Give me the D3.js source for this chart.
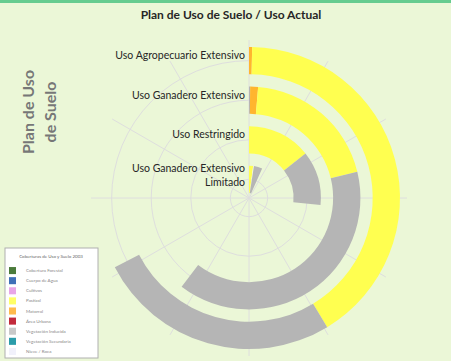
<!DOCTYPE html>
<html>
<head>
<meta charset="utf-8">
<script src="https://cdn.jsdelivr.net/npm/d3@7"></script>
<style>
  body { margin: 0; background: #ebf7d7; }
  svg { display: block; font-family: Lato, "Open Sans", sans-serif; }
</style>
</head>
<body>
<svg width="451" height="361"></svg>
<script>
// rings, from outside to inside
const rings = ["Uso Agropecuario Extensivo", "Uso Ganadero Extensivo", "Uso Restringido", "Uso Ganadero Extensivo Limitado"];

// segments of every ring, in drawing order (clockwise from 12 o'clock)
const segCats = [
  ["Matorral", "Pastizal", "Vegetación Inducida"],
  ["Vegetación Inducida", "Matorral", "Pastizal", "Vegetación Inducida"],
  ["Pastizal", "Vegetación Inducida"],
  ["Pastizal", "Nieve / Roca", "Vegetación Inducida"]
];
const segValues = [
  [1.2, 147.6, 93.9],
  [0.6, 4.1, 71.7, 140.8],
  [51.8, 43.8],
  [7.4, 1.5, 15.1]
];

// legend
const legendTitle = "Coberturas de Uso y Suelo 2003";
const legendCats = ["Cobertura Forestal", "Cuerpo de Agua", "Cultivos", "Pastizal", "Matorral", "Área Urbana", "Vegetación Inducida", "Vegetación Secundaria", "Nieve / Roca"];
const legendColors = ["#4b7b3b", "#3f70b8", "#e8a6e8", "#ffff66", "#ffbb4d", "#c22a3c", "#c9c9c9", "#2b9caa", "#f1f1fb"];

// colors used on the rings
const barColor = {
  "Pastizal": "#ffff50",
  "Matorral": "#ffb52e",
  "Vegetación Inducida": "#b5b5b5",
  "Nieve / Roca": "#f1f5e4"
};

const svg = d3.select("svg");
const width = +svg.attr("width");
const height = +svg.attr("height");

const cx = 249, cy = 198;

svg.append("rect").attr("width", width).attr("height", height).attr("fill", "#ebf7d7");
svg.append("rect").attr("width", width).attr("height", 3).attr("fill", "#66cc8f");

// title
svg.append("text")
    .attr("x", 231).attr("y", 19)
    .attr("text-anchor", "middle")
    .attr("font-weight", "bold")
    .attr("font-size", 12)
    .attr("fill", "#262626")
    .text("Plan de Uso de Suelo / Uso Actual");

// left vertical title
["Plan de Uso", "de Suelo"].forEach((t, i) => {
  svg.append("text")
      .attr("transform", `translate(${28 + i * 22},112) rotate(-90)`)
      .attr("dy", "0.35em")
      .attr("text-anchor", "middle")
      .attr("font-weight", "bold")
      .attr("font-size", 16)
      .attr("fill", "#777777")
      .text(t);
});

const r = d3.scaleBand()
    .domain(rings.slice().reverse())
    .range([5, 151])
    .paddingInner(0.31)
    .paddingOuter(0);

const a = d3.scaleLinear().domain([0, 360]).range([0, 2 * Math.PI]);

const g = svg.append("g").attr("transform", `translate(${cx},${cy})`);

// grid
const grid = g.append("g").attr("stroke", "#dedede").attr("fill", "none").attr("stroke-width", 1);
d3.range(0, 360, 30).forEach(d => {
  grid.append("line")
      .attr("x1", 0).attr("y1", 0)
      .attr("x2", 158 * Math.sin(a(d)))
      .attr("y2", -158 * Math.cos(a(d)));
});
rings.forEach(d => {
  grid.append("circle").attr("r", r(d) + r.bandwidth() / 2);
});

// bars
const arc = d3.arc();
rings.forEach((ring, i) => {
  const ends = d3.cumsum(segValues[i]);
  const segs = segValues[i].map((v, j) => ({
    cat: segCats[i][j],
    innerRadius: r(ring),
    outerRadius: r(ring) + r.bandwidth(),
    startAngle: a(ends[j] - v),
    endAngle: a(ends[j])
  }));
  g.append("g").selectAll("path")
    .data(segs)
    .join("path")
      .attr("d", arc)
      .attr("fill", d => barColor[d.cat]);
});

// ring labels
const lab = svg.append("g")
    .attr("font-size", 10.5)
    .attr("fill", "#262626")
    .attr("text-anchor", "end");
rings.forEach((ring, i) => {
  const yc = cy - (r(ring) + r.bandwidth() / 2) - 5;
  if (i < 3) {
    lab.append("text").attr("x", 245).attr("y", yc).attr("dy", "0.35em").text(ring);
  } else {
    lab.append("text").attr("x", 245).attr("y", yc - 6).attr("dy", "0.35em").text("Uso Ganadero Extensivo");
    lab.append("text").attr("x", 245).attr("y", yc + 8).attr("dy", "0.35em").text("Limitado");
  }
});

// legend box
const leg = svg.append("g").attr("transform", "translate(5,248)");
leg.append("rect")
    .attr("width", 93).attr("height", 110)
    .attr("fill", "#ffffff")
    .attr("stroke", "#b0b0b0");
leg.append("text")
    .attr("x", 46).attr("y", 10)
    .attr("text-anchor", "middle")
    .attr("font-size", 4.5)
    .attr("fill", "#666")
    .text(legendTitle);
const row = d3.scaleBand().domain(legendCats).range([15, 110]).padding(0.4);
legendCats.forEach((c, i) => {
  leg.append("rect")
      .attr("x", 4).attr("y", row(c))
      .attr("width", 7).attr("height", row.bandwidth() + 1)
      .attr("fill", legendColors[i]);
  leg.append("text")
      .attr("x", 21).attr("y", row(c) + row.bandwidth() / 2 + 0.5)
      .attr("dy", "0.35em")
      .attr("font-size", 4.5)
      .attr("fill", "#888")
      .text(c);
});
</script>
</body>
</html>
